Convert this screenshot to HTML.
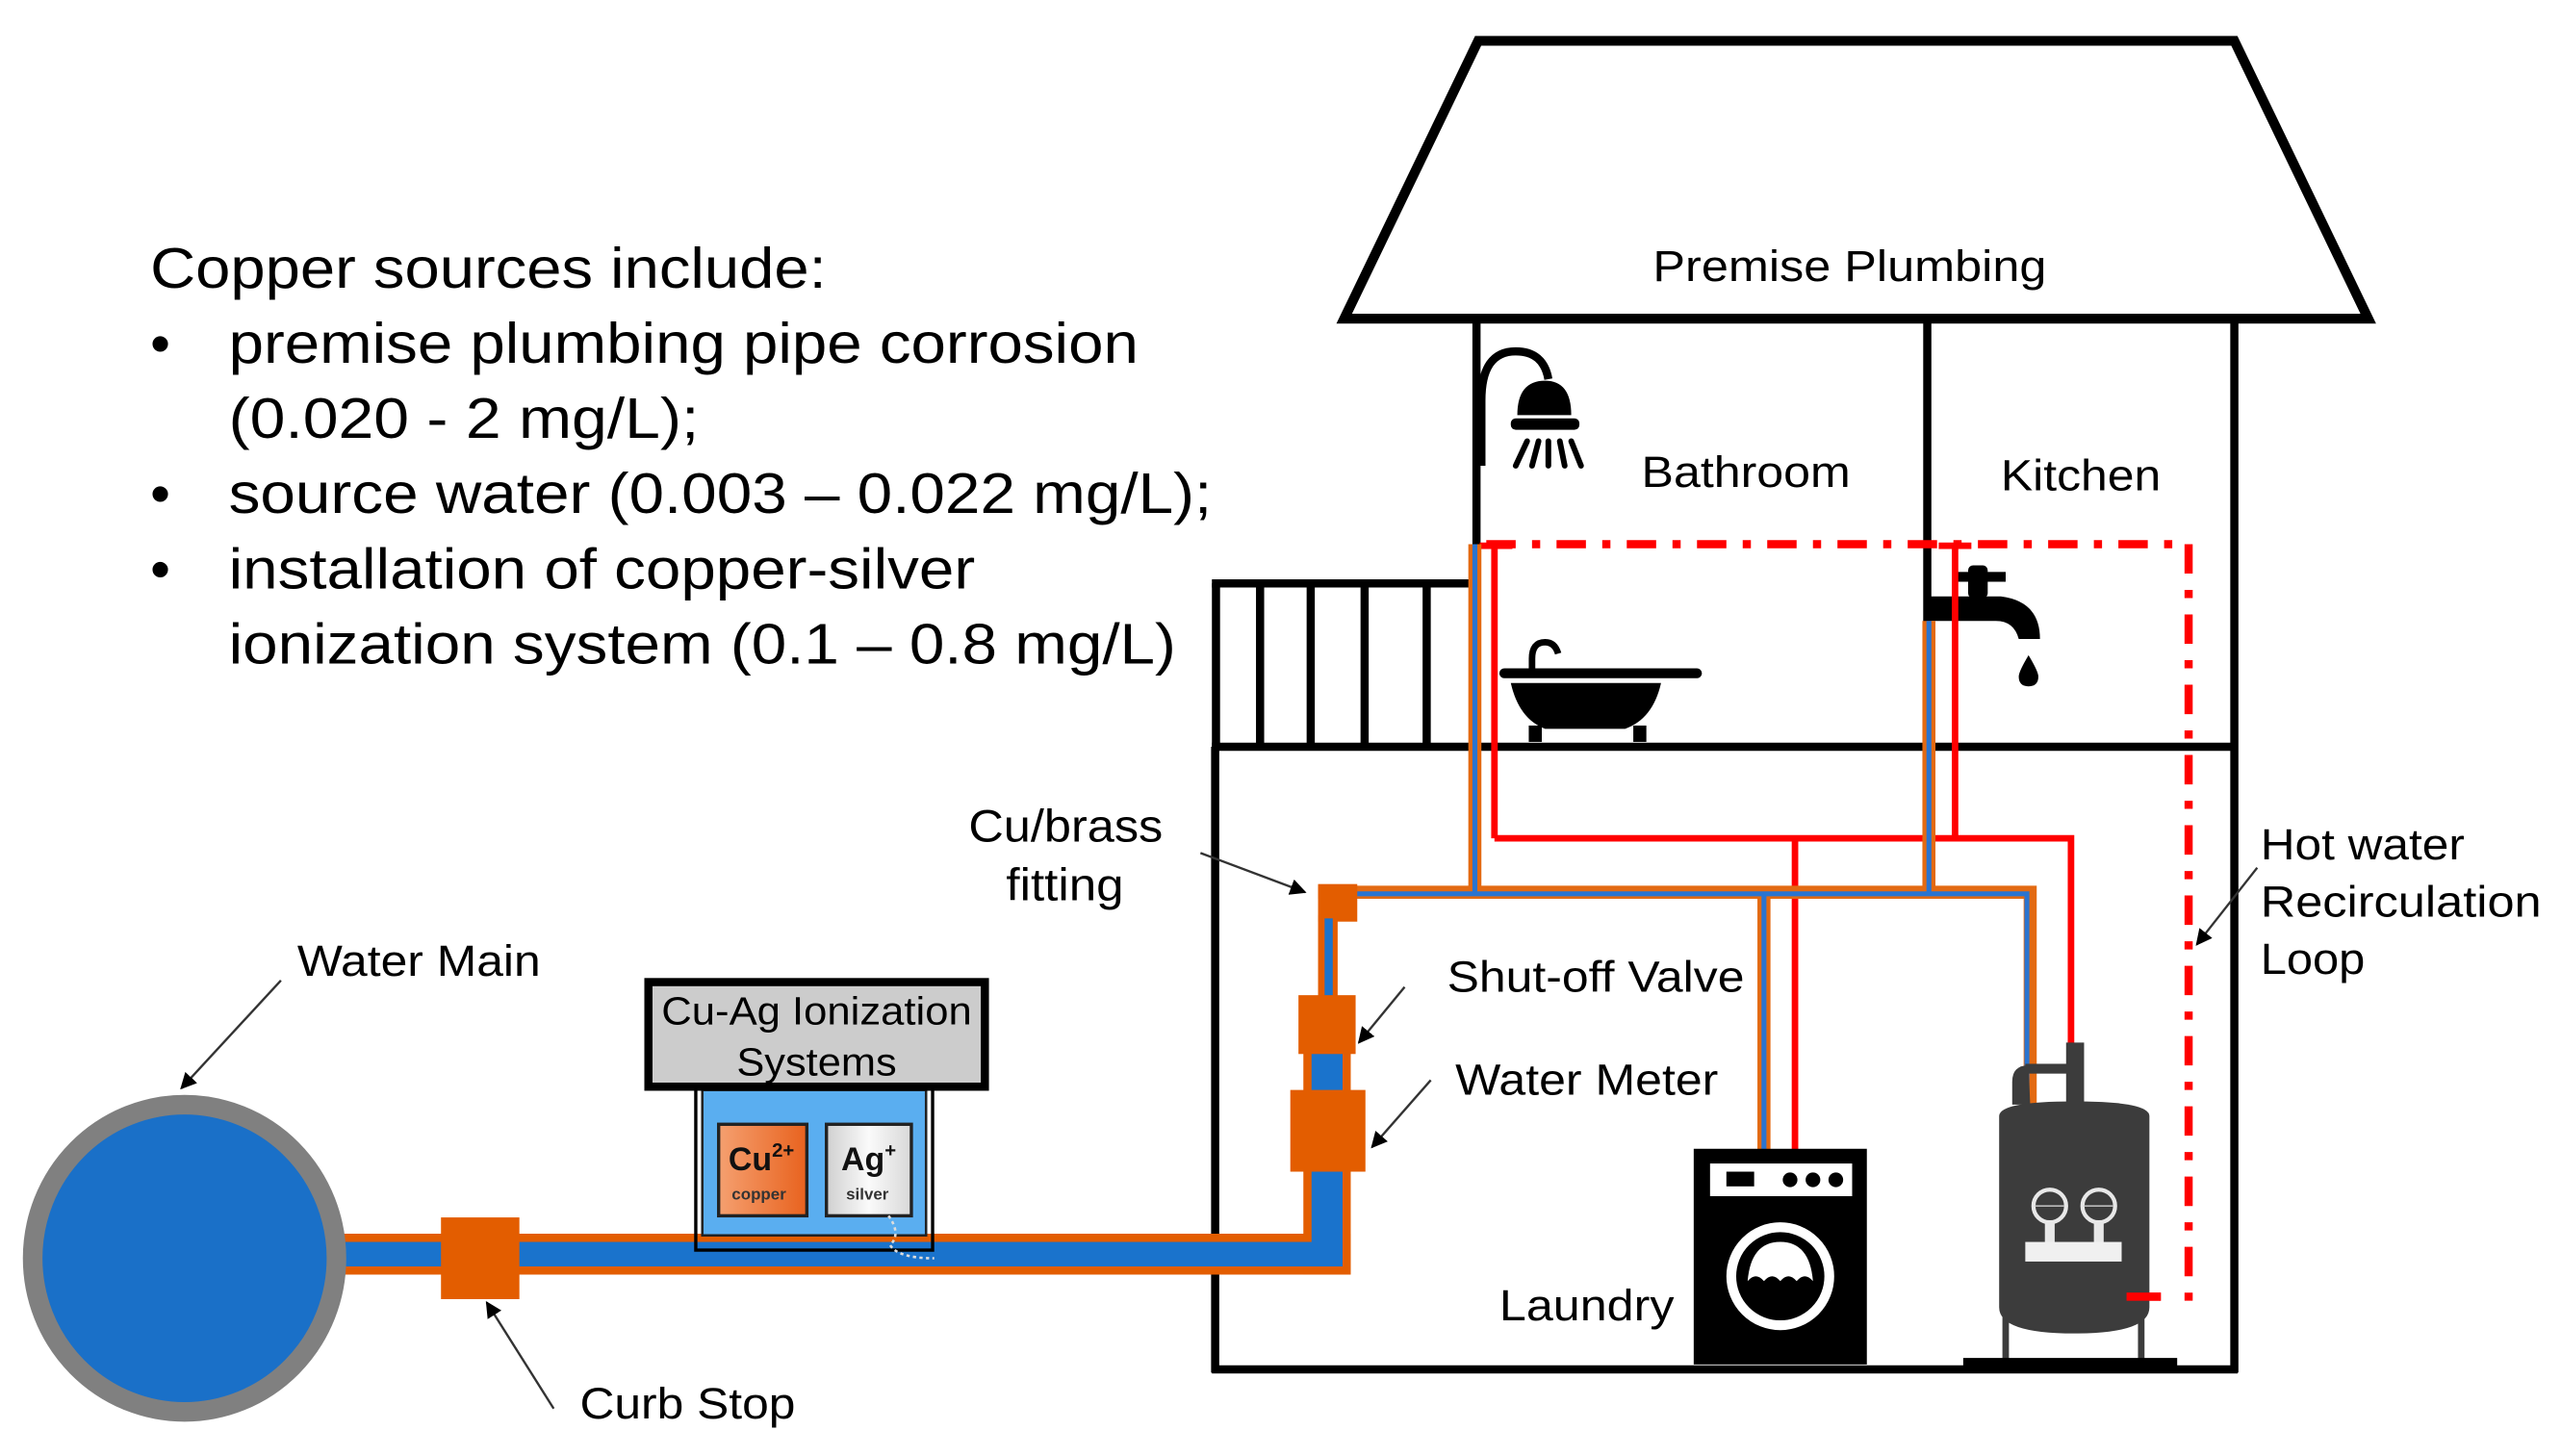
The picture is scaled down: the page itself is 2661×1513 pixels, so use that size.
<!DOCTYPE html>
<html><head><meta charset="utf-8"><style>html,body{margin:0;padding:0;background:#fff}svg{display:block}</style></head>
<body>
<svg width="2661" height="1513" viewBox="0 0 1568 891" preserveAspectRatio="none" xmlns="http://www.w3.org/2000/svg" font-family="Liberation Sans, Arial, sans-serif">
<rect width="1568" height="891" fill="#fff"/>
<defs>
<marker id="ah" markerWidth="10" markerHeight="10" refX="9" refY="5" orient="auto" markerUnits="userSpaceOnUse"><path d="M0,0 L10,5 L0,10 z" fill="#000"/></marker>
<linearGradient id="cug" x1="0" x2="1"><stop offset="0" stop-color="#f5a070"/><stop offset="1" stop-color="#e8621e"/></linearGradient>
<linearGradient id="agg" x1="0" x2="1"><stop offset="0" stop-color="#d0d0d0"/><stop offset="0.5" stop-color="#fafafa"/><stop offset="1" stop-color="#d8d8d8"/></linearGradient>
</defs>

<!-- Left text -->
<g font-size="35" fill="#000">
<text x="92" y="176" textLength="414" lengthAdjust="spacingAndGlyphs">Copper sources include:</text>
<text x="92" y="222">•</text>
<text x="140" y="222" textLength="557" lengthAdjust="spacingAndGlyphs">premise plumbing pipe corrosion</text>
<text x="140" y="268" textLength="288" lengthAdjust="spacingAndGlyphs">(0.020 - 2 mg/L);</text>
<text x="92" y="314">•</text>
<text x="140" y="314" textLength="602" lengthAdjust="spacingAndGlyphs">source water (0.003 – 0.022 mg/L);</text>
<text x="92" y="360">•</text>
<text x="140" y="360" textLength="457" lengthAdjust="spacingAndGlyphs">installation of copper-silver</text>
<text x="140" y="406" textLength="580" lengthAdjust="spacingAndGlyphs">ionization system (0.1 – 0.8 mg/L)</text>
</g>

<!-- Roof -->
<polygon points="905,25 1368,25 1450,195 823,195" fill="#fff" stroke="#000" stroke-width="6" stroke-linejoin="miter"/>
<!-- House walls -->
<g stroke="#000" stroke-width="5" fill="none">
<line x1="904" y1="195" x2="904" y2="457"/>
<line x1="1180" y1="195" x2="1180" y2="457"/>
<line x1="1368" y1="195" x2="1368" y2="840"/>
<line x1="742" y1="457" x2="1370" y2="457"/>
<line x1="744" y1="457" x2="744" y2="840"/>
<line x1="742" y1="838" x2="1370" y2="838"/>
<!-- railing -->
<line x1="742" y1="357" x2="904" y2="357"/>
</g>
<g fill="#000">
<rect x="742" y="357" width="5" height="100"/>
<rect x="769" y="357" width="5" height="100"/>
<rect x="800" y="357" width="5" height="100"/>
<rect x="833" y="357" width="5" height="100"/>
<rect x="871" y="357" width="5" height="100"/>
</g>

<!-- Shower -->
<path d="M907,285 L907,245 Q907,215 928,215 Q945,215 948,232" fill="none" stroke="#000" stroke-width="5"/>
<path d="M929,254 Q929,233 946,233 Q962,233 962,254 Z" fill="#000"/>
<rect x="925" y="256" width="42" height="7" rx="3" fill="#000"/>
<g stroke="#000" stroke-width="3.5" stroke-linecap="round">
<line x1="935" y1="270" x2="928" y2="285"/>
<line x1="942" y1="270" x2="938" y2="285"/>
<line x1="948" y1="270" x2="948" y2="285"/>
<line x1="955" y1="270" x2="958" y2="285"/>
<line x1="962" y1="270" x2="968" y2="285"/>
</g>
<!-- Bathtub -->
<rect x="918" y="409" width="124" height="6" rx="3" fill="#000"/>
<path d="M938,409 L938,403 Q938,393 946,393 Q952,393 954,400" fill="none" stroke="#000" stroke-width="4"/>
<path d="M925,418 L1017,418 Q1012,440 995,446 L946,446 Q930,440 925,418 Z" fill="#000"/>
<rect x="936" y="444" width="8" height="10" fill="#000"/>
<rect x="1000" y="444" width="8" height="10" fill="#000"/>

<!-- Faucet -->
<path d="M1180,365 L1225,365 Q1249,368 1249,391 L1236,391 Q1233,380 1222,380 L1180,380 Z" fill="#000"/>
<rect x="1205" y="346" width="12" height="20" rx="3" fill="#000"/>
<rect x="1197" y="350" width="31" height="6" fill="#000"/>
<path d="M1242,401 Q1236,411 1236,414 Q1236,420 1242,420 Q1248,420 1248,414 Q1248,411 1242,401 Z" fill="#000"/>

<!-- Recirculation dash-dot loop -->
<path d="M910,333 L1340,333 L1340,796" fill="none" stroke="#ff0000" stroke-width="5" stroke-dasharray="18,10,5,10"/>
<rect x="1302" y="791" width="21" height="5" fill="#ff0000"/>

<!-- Hot (red) pipes -->
<g stroke="#ff0000" stroke-width="4" fill="none">
<line x1="906" y1="334" x2="926" y2="334"/>
<line x1="915" y1="333" x2="915" y2="513"/>
<line x1="1187" y1="334" x2="1207" y2="334"/>
<line x1="1197" y1="333" x2="1197" y2="513"/>
<polyline points="915,513 1268,513 1268,640"/>
<line x1="1099" y1="513" x2="1099" y2="706"/>
</g>

<!-- Cold thin pipes: orange outline + blue core -->
<g fill="none" stroke-linejoin="miter">
<g stroke="#e36a12" stroke-width="8">
<polyline points="807,546 1243,546 1243,800"/>
<line x1="903" y1="333" x2="903" y2="546"/>
<line x1="1181" y1="380" x2="1181" y2="546"/>
<line x1="1080" y1="546" x2="1080" y2="706"/>
</g>
<g stroke="#2a74d0" stroke-width="3">
<polyline points="815,547 1241,547 1241,800"/>
<line x1="903" y1="333" x2="903" y2="547"/>
<line x1="1181" y1="380" x2="1181" y2="547"/>
<line x1="1080" y1="547" x2="1080" y2="706"/>
</g>
</g>
<!-- fitting and vertical riser -->
<rect x="807" y="541" width="24" height="23" fill="#e35d00"/>
<rect x="807" y="560" width="12" height="52" fill="#e35d00"/>
<rect x="811" y="562" width="5" height="50" fill="#1a73cc"/>

<!-- Main service pipe -->
<path d="M200,755 L827,755 L827,780 L200,780 Z" fill="#e35d00"/>
<rect x="798" y="612" width="29" height="168" fill="#e35d00"/>
<rect x="200" y="760" width="622" height="15" fill="#1a73cc"/>
<rect x="803" y="640" width="19" height="135" fill="#1a73cc"/>
<!-- shut-off valve & meter -->
<rect x="795" y="609" width="35" height="36" fill="#e35d00"/>
<rect x="790" y="667" width="46" height="50" fill="#e35d00"/>

<!-- Water main -->
<ellipse cx="113" cy="770" rx="93" ry="94" fill="#1a70c8" stroke="#808080" stroke-width="12"/>
<!-- Curb stop -->
<rect x="270" y="745" width="48" height="50" fill="#e35d00"/>

<!-- Cu-Ag system -->
<rect x="426" y="665" width="145" height="100" fill="none" stroke="#000" stroke-width="2"/>
<rect x="430" y="667" width="137" height="89" fill="#5aaef0"/>
<rect x="430" y="667" width="137" height="89" fill="none" stroke="#222" stroke-width="1.5"/>
<rect x="440" y="688" width="54" height="56" fill="url(#cug)" stroke="#222" stroke-width="2"/>
<rect x="506" y="688" width="52" height="56" fill="url(#agg)" stroke="#222" stroke-width="2"/>
<text x="446" y="716" font-size="20" font-weight="bold" fill="#111">Cu<tspan font-size="12" dy="-8">2+</tspan></text>
<text x="448" y="734" font-size="10" font-weight="bold" fill="#333">copper</text>
<text x="515" y="716" font-size="20" font-weight="bold" fill="#111">Ag<tspan font-size="12" dy="-8">+</tspan></text>
<text x="518" y="734" font-size="10" font-weight="bold" fill="#333">silver</text>
<path d="M544,744 Q552,755 545,762 Q550,770 572,770" fill="none" stroke="#ddd" stroke-width="1.5" stroke-dasharray="2,2"/>
<rect x="397" y="601" width="206" height="64" fill="#cccccc" stroke="#000" stroke-width="5"/>
<text x="405" y="627" font-size="24" textLength="190" lengthAdjust="spacingAndGlyphs">Cu-Ag Ionization</text>
<text x="451" y="658" font-size="24" textLength="98" lengthAdjust="spacingAndGlyphs">Systems</text>

<!-- Washer -->
<rect x="1037" y="703" width="106" height="132" fill="#000"/>
<rect x="1047" y="712" width="87" height="20" fill="#fff"/>
<rect x="1057" y="717" width="17" height="9" fill="#000"/>
<circle cx="1096" cy="722" r="4.5" fill="#000"/>
<circle cx="1110" cy="722" r="4.5" fill="#000"/>
<circle cx="1124" cy="722" r="4.5" fill="#000"/>
<circle cx="1090" cy="781" r="30" fill="none" stroke="#fff" stroke-width="6"/>
<path d="M1070,784 Q1072,760 1090,760 Q1108,760 1110,784 Q1105,778 1100,784 Q1095,778 1090,784 Q1085,778 1080,784 Q1075,778 1070,784 Z" fill="#fff"/>

<!-- Water heater -->
<rect x="1265" y="638" width="11" height="38" fill="#3c3c3c"/>
<rect x="1240" y="651" width="30" height="6" fill="#3c3c3c"/>
<path d="M1232,676 L1232,662 Q1232,652 1242,652 L1243,676 Z" fill="#3c3c3c"/>
<path d="M1224,683 Q1224,674 1270,674 Q1316,674 1316,683 L1316,800 Q1316,816 1270,816 Q1224,816 1224,800 Z" fill="#3c3c3c"/>
<rect x="1226" y="800" width="4" height="33" fill="#3c3c3c"/>
<rect x="1309" y="800" width="4" height="33" fill="#3c3c3c"/>
<circle cx="1255" cy="738" r="10" fill="none" stroke="#e8e8e8" stroke-width="2.5"/>
<circle cx="1285" cy="738" r="10" fill="none" stroke="#e8e8e8" stroke-width="2.5"/>
<line x1="1246" y1="738" x2="1264" y2="738" stroke="#bbb" stroke-width="1"/>
<line x1="1276" y1="738" x2="1294" y2="738" stroke="#bbb" stroke-width="1"/>
<rect x="1252" y="748" width="6" height="14" fill="#e8e8e8"/>
<rect x="1282" y="748" width="6" height="14" fill="#e8e8e8"/>
<rect x="1240" y="760" width="59" height="12" fill="#f0f0f0"/>
<rect x="1302" y="791" width="21" height="5" fill="#ff0000"/>
<rect x="1202" y="831" width="131" height="5" fill="#000"/>

<!-- Arrows -->
<g stroke="#333" stroke-width="1.4" fill="none" marker-end="url(#ah)">
<line x1="172" y1="600" x2="111" y2="666"/>
<line x1="339" y1="862" x2="298" y2="797"/>
<line x1="735" y1="522" x2="799" y2="546"/>
<line x1="860" y1="604" x2="832" y2="638"/>
<line x1="876" y1="661" x2="840" y2="702"/>
<line x1="1382" y1="531" x2="1345" y2="578"/>
</g>

<!-- Labels -->
<g font-size="27" fill="#000">
<text x="1012" y="172" textLength="241" lengthAdjust="spacingAndGlyphs">Premise Plumbing</text>
<text x="1005" y="298" textLength="128" lengthAdjust="spacingAndGlyphs">Bathroom</text>
<text x="1225" y="300" textLength="98" lengthAdjust="spacingAndGlyphs">Kitchen</text>
<text x="593" y="515" font-size="28" textLength="119" lengthAdjust="spacingAndGlyphs">Cu/brass</text>
<text x="616" y="551" font-size="28" textLength="72" lengthAdjust="spacingAndGlyphs">fitting</text>
<text x="182" y="597" textLength="149" lengthAdjust="spacingAndGlyphs">Water Main</text>
<text x="355" y="868" textLength="132" lengthAdjust="spacingAndGlyphs">Curb Stop</text>
<text x="886" y="607" textLength="182" lengthAdjust="spacingAndGlyphs">Shut-off Valve</text>
<text x="891" y="670" textLength="161" lengthAdjust="spacingAndGlyphs">Water Meter</text>
<text x="918" y="808" textLength="107" lengthAdjust="spacingAndGlyphs">Laundry</text>
<text x="1384" y="526" textLength="125" lengthAdjust="spacingAndGlyphs">Hot water</text>
<text x="1384" y="561" textLength="172" lengthAdjust="spacingAndGlyphs">Recirculation</text>
<text x="1384" y="596" textLength="64" lengthAdjust="spacingAndGlyphs">Loop</text>
</g>
</svg>
</body></html>
